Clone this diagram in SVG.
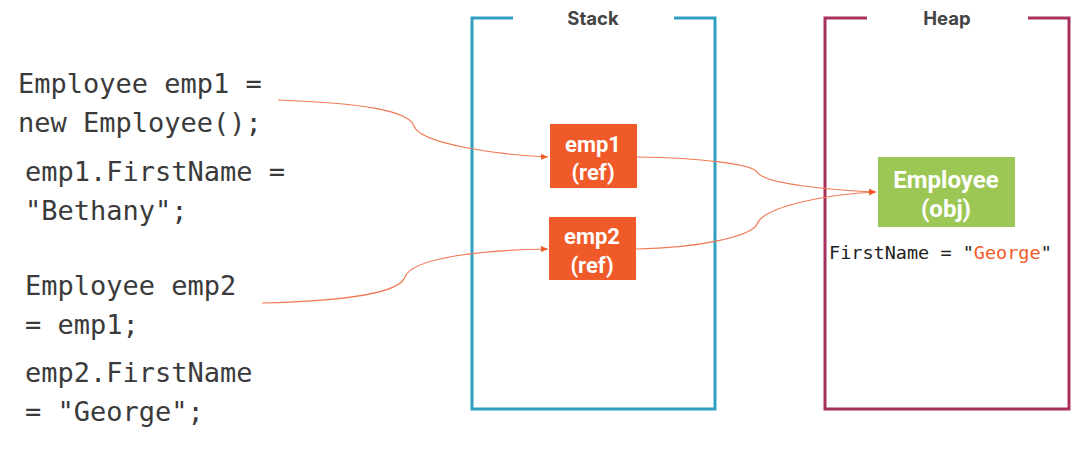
<svg xmlns="http://www.w3.org/2000/svg" width="1088" height="455" viewBox="0 0 1088 455">
<defs>
<style>
.code{font-family:"DejaVu Sans Mono","Liberation Mono",monospace;font-size:27px;fill:#3a3a3a}
.title{font-family:"Inter","Liberation Sans",sans-serif;font-weight:bold;font-size:18.5px;fill:#444;text-anchor:middle}
.lbl{font-family:"Roboto","Liberation Sans",sans-serif;font-weight:bold;fill:#fff;text-anchor:middle}
.conn{fill:none;stroke:#F07A55;stroke-width:1.2}
</style>
<marker id="arr" markerWidth="8" markerHeight="8" refX="7" refY="4" orient="auto" markerUnits="userSpaceOnUse">
<path d="M0,1 L7,4 L0,7 z" fill="#F05A28"/>
</marker>
</defs>
<rect width="1088" height="455" fill="#fff"/>
<g id="code">
<text class="code" x="18" y="93">Employee emp1 =</text>
<text class="code" x="18" y="132">new Employee();</text>
<text class="code" x="25" y="181">emp1.FirstName =</text>
<text class="code" x="25" y="220">"Bethany";</text>
<text class="code" x="25" y="295">Employee emp2</text>
<text class="code" x="25" y="334">= emp1;</text>
<text class="code" x="25" y="382">emp2.FirstName</text>
<text class="code" x="25" y="421">= "George";</text>
</g>
<g id="stack">
<path d="M513,18 H472 V409 H715 V18 H674" fill="none" stroke="#2E9FBF" stroke-width="3"/>
<text class="title" x="593" y="25">Stack</text>
</g>
<g id="heap">
<path d="M867,18 H825 V409 H1069 V18 H1028" fill="none" stroke="#A8305F" stroke-width="3"/>
<text class="title" x="947" y="25">Heap</text>
</g>
<g id="connectors">
<path class="conn" d="M278,100 C360,103 408,110 414,126 C420,144 500,155 548,157" marker-end="url(#arr)"/>
<path class="conn" d="M262,303 C350,301 400,292 405,277 C412,258 480,250 548,249" marker-end="url(#arr)"/>
<path class="conn" d="M637,157 C700,158 752,164 757,172 C764,184 830,190 876,192" marker-end="url(#arr)"/>
<path class="conn" d="M636,249 C700,248 752,236 757,224 C764,206 830,194 876,192" marker-end="url(#arr)"/>
</g>
<g id="emp1">
<rect x="550" y="124" width="87" height="64" fill="#F05A28"/>
<text class="lbl" x="593" y="152" font-size="22">emp1</text>
<text class="lbl" x="593" y="180" font-size="22">(ref)</text>
</g>
<g id="emp2">
<rect x="549" y="217" width="87" height="63" fill="#F05A28"/>
<text class="lbl" x="592" y="244" font-size="22">emp2</text>
<text class="lbl" x="592" y="273" font-size="22">(ref)</text>
</g>
<g id="employee">
<rect x="878" y="157" width="137" height="70" fill="#9DC755"/>
<text class="lbl" x="946" y="188" font-size="24">Employee</text>
<text class="lbl" x="946" y="217" font-size="24">(obj)</text>
</g>
<g id="firstname">
<text x="829" y="259" font-family="DejaVu Sans Mono,Liberation Mono,monospace" font-size="18.5" fill="#222">FirstName = "<tspan fill="#F05A28">George</tspan>"</text>
</g>
</svg>
